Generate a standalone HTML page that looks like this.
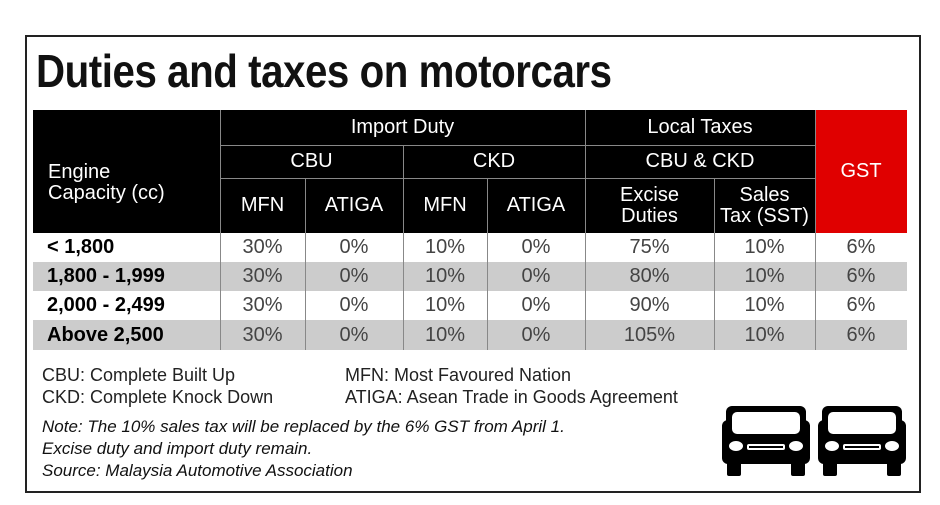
<!DOCTYPE html>
<html><head><style>
body{margin:0;width:940px;height:505px;background:#fff;font-family:"Liberation Sans",sans-serif;position:relative;overflow:hidden}
.a{position:absolute}
.box{left:25px;top:35px;width:892px;height:454px;border:2px solid #222}
.t{left:36px;top:44px;font-size:46px;font-weight:bold;transform:scaleX(0.875);transform-origin:left;letter-spacing:-0.5px;color:#111}
.hd{background:#000;color:#fff;font-size:20px;display:flex;align-items:center;justify-content:center;text-align:center;line-height:21px;box-sizing:border-box}
.c{display:flex;align-items:center;justify-content:center;font-size:20px;color:#444;box-sizing:border-box}
.l{justify-content:flex-start;padding-left:14px;color:#000;font-weight:bold;font-size:20px}
.g{background:#ccc}
.lg{font-size:18px;color:#222}
.n{font-size:17px;font-style:italic;color:#111}
</style></head><body>
<div class="a box"></div>
<div class="a t">Duties and taxes on motorcars</div>

<div class="a" style="left:33px;top:110px;width:782px;height:123px;background:#000"></div>
<div class="a hd" style="left:33px;top:110px;width:187px;height:123px;justify-content:flex-start;padding-left:15px;padding-top:22px;text-align:left">Engine<br>Capacity (cc)</div>
<div class="a hd" style="left:220px;top:110px;width:365px;height:35px">Import Duty</div>
<div class="a hd" style="left:585px;top:110px;width:230px;height:35px">Local Taxes</div>
<div class="a hd" style="left:220px;top:145px;width:183px;height:33px">CBU</div>
<div class="a hd" style="left:403px;top:145px;width:182px;height:33px">CKD</div>
<div class="a hd" style="left:585px;top:145px;width:230px;height:33px">CBU &amp; CKD</div>
<div class="a hd" style="left:220px;top:178px;width:85px;height:55px">MFN</div>
<div class="a hd" style="left:305px;top:178px;width:98px;height:55px">ATIGA</div>
<div class="a hd" style="left:403px;top:178px;width:84px;height:55px">MFN</div>
<div class="a hd" style="left:487px;top:178px;width:98px;height:55px">ATIGA</div>
<div class="a hd" style="left:585px;top:178px;width:129px;height:55px">Excise<br>Duties</div>
<div class="a hd" style="left:714px;top:178px;width:101px;height:55px">Sales<br>Tax (SST)</div>
<div class="a hd" style="left:815px;top:110px;width:92px;height:123px;background:#e00000">GST</div>

<div class="a g" style="left:33px;top:262px;width:874px;height:29px"></div>
<div class="a g" style="left:33px;top:320px;width:874px;height:30px"></div>

<div class="a" style="left:220px;top:110px;width:1px;height:240px;background:#888"></div>
<div class="a" style="left:585px;top:110px;width:1px;height:240px;background:#888"></div>
<div class="a" style="left:815px;top:110px;width:1px;height:240px;background:#888"></div>
<div class="a" style="left:403px;top:145px;width:1px;height:205px;background:#888"></div>
<div class="a" style="left:305px;top:178px;width:1px;height:172px;background:#888"></div>
<div class="a" style="left:487px;top:178px;width:1px;height:172px;background:#888"></div>
<div class="a" style="left:714px;top:178px;width:1px;height:172px;background:#888"></div>
<div class="a" style="left:220px;top:145px;width:595px;height:1px;background:#888"></div>
<div class="a" style="left:220px;top:178px;width:595px;height:1px;background:#888"></div>

<div class="a" style="left:33px;top:233px;width:874px">
<div style="display:flex;height:29px"><div class="c l" style="width:187px">&lt; 1,800</div><div class="c" style="width:85px">30%</div><div class="c" style="width:98px">0%</div><div class="c" style="width:84px">10%</div><div class="c" style="width:98px">0%</div><div class="c" style="width:129px">75%</div><div class="c" style="width:101px">10%</div><div class="c" style="width:92px">6%</div></div>
<div style="display:flex;height:29px"><div class="c l" style="width:187px">1,800 - 1,999</div><div class="c" style="width:85px">30%</div><div class="c" style="width:98px">0%</div><div class="c" style="width:84px">10%</div><div class="c" style="width:98px">0%</div><div class="c" style="width:129px">80%</div><div class="c" style="width:101px">10%</div><div class="c" style="width:92px">6%</div></div>
<div style="display:flex;height:29px"><div class="c l" style="width:187px">2,000 - 2,499</div><div class="c" style="width:85px">30%</div><div class="c" style="width:98px">0%</div><div class="c" style="width:84px">10%</div><div class="c" style="width:98px">0%</div><div class="c" style="width:129px">90%</div><div class="c" style="width:101px">10%</div><div class="c" style="width:92px">6%</div></div>
<div style="display:flex;height:30px"><div class="c l" style="width:187px">Above 2,500</div><div class="c" style="width:85px">30%</div><div class="c" style="width:98px">0%</div><div class="c" style="width:84px">10%</div><div class="c" style="width:98px">0%</div><div class="c" style="width:129px">105%</div><div class="c" style="width:101px">10%</div><div class="c" style="width:92px">6%</div></div>
</div>

<div class="a lg" style="left:42px;top:365px">CBU: Complete Built Up</div>
<div class="a lg" style="left:42px;top:387px">CKD: Complete Knock Down</div>
<div class="a lg" style="left:345px;top:365px">MFN: Most Favoured Nation</div>
<div class="a lg" style="left:345px;top:387px">ATIGA: Asean Trade in Goods Agreement</div>
<div class="a n" style="left:42px;top:417px">Note: The 10% sales tax will be replaced by the 6% GST from April 1.</div>
<div class="a n" style="left:42px;top:439px">Excise duty and import duty remain.</div>
<div class="a n" style="left:42px;top:461px">Source: Malaysia Automotive Association</div>

<svg class="a" style="left:720px;top:400px" width="200" height="80" viewBox="0 0 200 80">
<g id="car">
<rect x="6" y="6" width="80" height="58" rx="6" fill="#000"/>
<rect x="2" y="20" width="88" height="44" rx="6" fill="#000"/>
<rect x="12" y="12" width="68" height="22" rx="5" fill="#fff"/>
<ellipse cx="16" cy="46" rx="7" ry="5" fill="#fff"/>
<ellipse cx="76" cy="46" rx="7" ry="5" fill="#fff"/>
<rect x="27" y="44" width="38" height="6" rx="2" fill="#fff"/>
<rect x="29" y="46" width="34" height="2" fill="#000"/>
<rect x="7" y="60" width="14" height="16" rx="2" fill="#000"/>
<rect x="71" y="60" width="14" height="16" rx="2" fill="#000"/>
</g>
<use href="#car" x="96"/>
</svg>
</body></html>
